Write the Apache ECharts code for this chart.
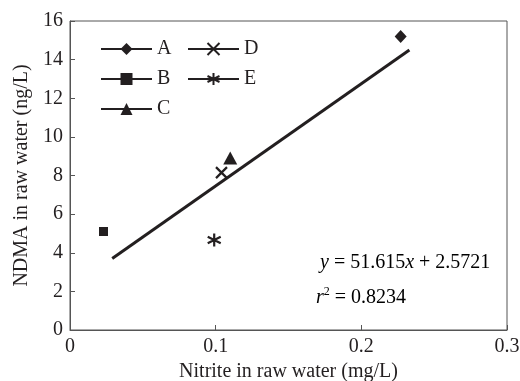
<!DOCTYPE html>
<html lang="en">
<head>
    <meta charset="UTF-8">
    <title>NDMA vs nitrite</title>
    <script src="https://cdn.jsdelivr.net/npm/echarts@6/dist/echarts.min.js"></script>
    <style>
        html, body { margin: 0; padding: 0; background: #fff; }
        #chart { width: 520px; height: 381px; }
    </style>
</head>
<body>
<div id="chart"></div>
<script type="text/javascript">
// values
var names = ['A', 'B', 'C', 'D', 'E'];
var nitrite = [0.227, 0.023, 0.110, 0.104, 0.099];
var ndma = [15.2, 5.1, 8.9, 8.15, 4.66];
var fitX = [0.029, 0.233];
var fitY = [3.7, 14.5];
var xTicks = [0, 0.1, 0.2, 0.3];
var yTicks = [0, 2, 4, 6, 8, 10, 12, 14, 16];

var ink = '#231f20';
var font = 'Liberation Serif';
var fs = 20;

var symbols = [
    'diamond',
    'rect',
    'triangle',
    'path://M0,0L10,10M10,0L0,10',
    'path://M5,0L5,10M0.7,2.5L9.3,7.5M0.7,7.5L9.3,2.5'
];
var sizes = [[12, 13], 9, [14, 13], 11, 13];

var series = names.map(function (n, i) {
    var stroked = i >= 3;
    return {
        name: n,
        type: 'line',
        data: [[nitrite[i], ndma[i]]],
        symbol: symbols[i],
        symbolSize: sizes[i],
        showSymbol: true,
        lineStyle: { color: ink, width: 2 },
        itemStyle: stroked ? { color: ink, borderColor: ink, borderWidth: 2.2 } : { color: ink, borderWidth: 0 },
        z: 3
    };
});

series.push({
    name: 'fit',
    type: 'line',
    data: fitX.map(function (x, i) { return [x, fitY[i]]; }),
    showSymbol: false,
    symbol: 'none',
    lineStyle: { color: ink, width: 3 },
    silent: true,
    z: 2
});

var legendBase = {
    orient: 'vertical',
    itemWidth: 51,
    itemHeight: 15,
    itemGap: 8,
    selectedMode: false,
    textStyle: { fontFamily: font, fontSize: fs, color: ink, lineHeight: 22 },
    lineStyle: { width: 2 }
};

var rs = { fontFamily: font, fontSize: fs, color: ink, lineHeight: 24 };
var option = {
    animation: false,
    grid: {
        left: 70, right: 13, top: 21, bottom: 51,
        outerBoundsMode: 'none',
        containLabel: false,
        show: true, borderColor: '#555', borderWidth: 1
    },
    legend: [
        Object.assign({}, legendBase, { data: ['A', 'B', 'C'], left: 95, top: 33 }),
        Object.assign({}, legendBase, { data: ['D', 'E'], left: 182, top: 33 })
    ],
    xAxis: {
        type: 'value',
        min: xTicks[0],
        max: xTicks[xTicks.length - 1],
        interval: 0.1,
        name: 'Nitrite in raw water (mg/L)',
        nameLocation: 'middle',
        nameGap: 32,
        nameTextStyle: { fontFamily: font, fontSize: fs, color: ink },
        axisLine: { lineStyle: { color: '#555', width: 1 } },
        axisTick: { inside: true, length: 5, lineStyle: { color: '#555' } },
        axisLabel: { fontFamily: font, fontSize: fs, color: ink, margin: 7 },
        splitLine: { show: false }
    },
    yAxis: {
        type: 'value',
        min: yTicks[0],
        max: yTicks[yTicks.length - 1],
        interval: 2,
        name: 'NDMA in raw water (ng/L)',
        nameLocation: 'middle',
        nameGap: 38,
        nameTextStyle: { fontFamily: font, fontSize: fs, color: ink },
        axisLine: { show: true, lineStyle: { color: '#555', width: 1 } },
        axisTick: { show: true, inside: true, length: 5, lineStyle: { color: '#555' } },
        axisLabel: { fontFamily: font, fontSize: fs, color: ink, margin: 7 },
        splitLine: { show: false }
    },
    graphic: [
        {
            type: 'text', left: 320, top: 253,
            style: {
                text: '{i|y}{n| = 51.615}{i|x}{n| + 2.5721}',
                rich: {
                    i: Object.assign({}, rs, { fontStyle: 'italic' }),
                    n: rs
                }
            }
        },
        {
            type: 'text', left: 316, top: 286,
            style: {
                text: '{i|r}{s|2}{n| = 0.8234}',
                rich: {
                    i: Object.assign({}, rs, { fontStyle: 'italic' }),
                    s: Object.assign({}, rs, { fontSize: 12, verticalAlign: 'top', lineHeight: 16 }),
                    n: rs
                }
            }
        }
    ],
    series: series
};

var myChart = echarts.init(document.getElementById('chart'));
myChart.setOption(option);
</script>
</body>
</html>
